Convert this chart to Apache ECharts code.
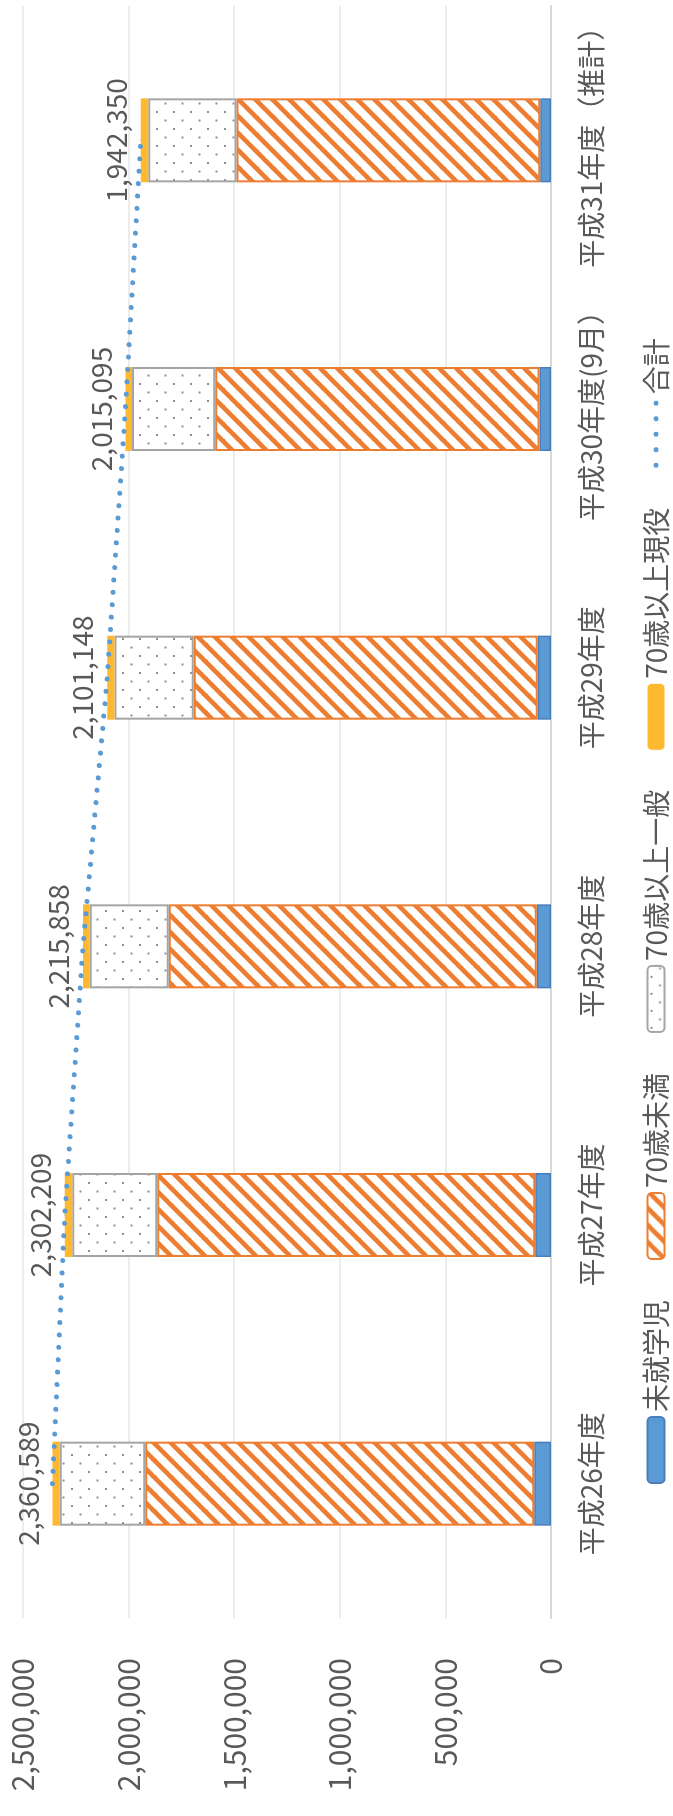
<!DOCTYPE html>
<html>
<head>
<meta charset="utf-8">
<script src="https://cdn.jsdelivr.net/npm/echarts@6/dist/echarts.min.js"></script>
<style>
html,body{margin:0;padding:0;background:#fff;overflow:hidden;width:673px;height:1816px;}
#wrap{position:absolute;left:0;top:0;width:1816px;height:673px;transform-origin:0 0;transform:translate(0,1816px) rotate(-90deg);}
#chart{width:1816px;height:673px;}
</style>
</head>
<body>
<div id="wrap"><div id="chart"></div></div>
<script>
// ---- data ----
const categories = ['平成26年度','平成27年度','平成28年度','平成29年度','平成30年度(9月）','平成31年度（推計）'];
const seriesNames = ['未就学児','70歳未満','70歳以上一般','70歳以上現役','合計'];
const preschool = [79000, 74000, 68000, 63000, 55000, 51000];
const under70 = [1842000, 1790000, 1742000, 1628000, 1535000, 1438000];
const over70General = [405000, 403000, 374000, 376000, 394000, 418000];
const over70Working = [34589, 35209, 31858, 34148, 31095, 35350];
const total = [2360589, 2302209, 2215858, 2101148, 2015095, 1942350];
const valueTicks = [0, 500000, 1000000, 1500000, 2000000, 2500000];

// ---- patterns ----
function hatchPattern(){
  const s = 17, c = document.createElement('canvas');
  c.width = s; c.height = s;
  const g = c.getContext('2d');
  g.fillStyle = '#ffffff'; g.fillRect(0,0,s,s);
  g.strokeStyle = '#ED7D31'; g.lineWidth = 4.6; g.lineCap = 'square';
  for (const k of [-s, 0, s]) {
    g.beginPath(); g.moveTo(k, s); g.lineTo(k + s, 0); g.stroke();
  }
  return c;
}
function dotPattern(){
  const s = 17, c = document.createElement('canvas');
  c.width = s; c.height = s;
  const g = c.getContext('2d');
  g.fillStyle = '#ffffff'; g.fillRect(0,0,s,s);
  g.fillStyle = '#8f8f8f';
  g.fillRect(3, 3, 2, 2);
  g.fillRect(11.5, 11.5, 2, 2);
  return c;
}
const fmt = v => Number(v).toLocaleString('en-US');
const FONT = '"Noto Sans CJK JP", "Noto Sans", sans-serif';
const TXT = '#595959';
const LINE_DASH = [0.01, 12.4];

const chart = echarts.init(document.getElementById('chart'));
chart.setOption({
  backgroundColor: '#ffffff',
  animation: false,
  textStyle: { fontFamily: FONT },
  grid: { left: 198, right: 6, top: 23, bottom: 122, containLabel: false },
  legend: {
    data: [
      seriesNames[0], seriesNames[1], seriesNames[2], seriesNames[3],
      { name: seriesNames[4],
        itemStyle: { opacity: 0, color: 'rgba(0,0,0,0)', borderWidth: 0 },
        lineStyle: { color: '#5B9BD5', width: 5, type: [0.01, 15.5], cap: 'round' } }
    ],
    left: 332,
    top: 642,
    padding: 0,
    itemWidth: 66,
    itemHeight: 17,
    itemGap: 40,
    textStyle: { fontSize: 28, color: TXT, fontFamily: FONT }
  },
  xAxis: {
    type: 'category',
    data: categories,
    axisLine: { show: true, lineStyle: { color: '#D9D9D9', width: 2 } },
    axisTick: { show: false },
    axisLabel: { fontSize: 28, color: TXT, margin: 26, fontFamily: FONT, interval: 0 }
  },
  yAxis: {
    type: 'value',
    min: valueTicks[0],
    max: valueTicks[valueTicks.length - 1],
    interval: valueTicks[1] - valueTicks[0],
    axisLine: { show: false },
    axisTick: { show: false },
    splitLine: { lineStyle: { color: '#E6E6E6', width: 1.5 } },
    axisLabel: { fontSize: 30, color: TXT, margin: 40, formatter: fmt, fontFamily: FONT }
  },
  series: [
    { name: seriesNames[0], type: 'bar', stack: 'a', data: preschool, barWidth: 84,
      itemStyle: { color: '#5B9BD5', borderColor: '#4A7EBB', borderWidth: 1.5 } },
    { name: seriesNames[1], type: 'bar', stack: 'a', data: under70, barWidth: 84,
      itemStyle: { color: { image: hatchPattern(), repeat: 'repeat' }, borderColor: '#ED7D31', borderWidth: 2 } },
    { name: seriesNames[2], type: 'bar', stack: 'a', data: over70General, barWidth: 84,
      itemStyle: { color: { image: dotPattern(), repeat: 'repeat' }, borderColor: '#A5A5A5', borderWidth: 2 } },
    { name: seriesNames[3], type: 'bar', stack: 'a', data: over70Working, barWidth: 84,
      itemStyle: { color: '#FFB931' } },
    { name: seriesNames[4], type: 'line', data: total, z: 5,
      symbol: 'circle', symbolSize: 1, showSymbol: true,
      itemStyle: { color: '#5B9BD5' },
      lineStyle: { color: '#5B9BD5', width: 5, type: LINE_DASH, cap: 'round' },
      label: { show: true, position: 'top', distance: 10, fontSize: 28, color: TXT, formatter: p => fmt(p.value), fontFamily: FONT } }
  ]
});
</script>
</body>
</html>
